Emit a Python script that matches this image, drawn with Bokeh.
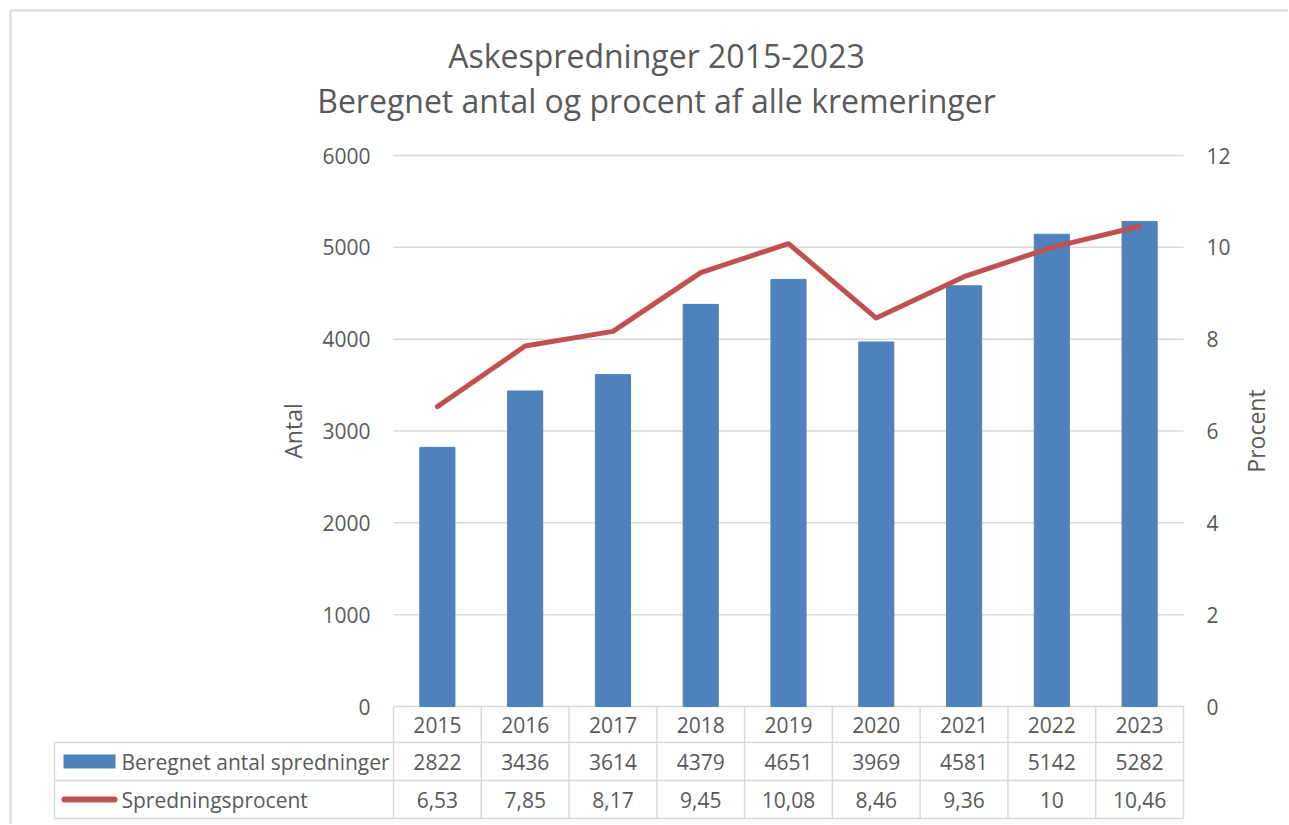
import math
import numpy as np
from bokeh.plotting import figure
from bokeh.models import Range1d
from bokeh.embed import file_html
from bokeh.resources import INLINE
from bokeh.core.properties import value

# ---------------- data ----------------
years = ["2015", "2016", "2017", "2018", "2019", "2020", "2021", "2022", "2023"]
antal = [2822, 3436, 3614, 4379, 4651, 3969, 4581, 5142, 5282]
procent = [6.53, 7.85, 8.17, 9.45, 10.08, 8.46, 9.36, 10.0, 10.46]
procent_labels = ["6,53", "7,85", "8,17", "9,45", "10,08", "8,46", "9,36", "10", "10,46"]
left_ticks = [0, 1000, 2000, 3000, 4000, 5000, 6000]
right_ticks = [0, 2, 4, 6, 8, 10, 12]
series_names = ["Beregnet antal spredninger", "Spredningsprocent"]
title_lines = ["Askespredninger 2015-2023", "Beregnet antal og procent af alle kremeringer"]
axis_titles = ["Antal", "Procent"]

# ---------------- style ----------------
BAR = "#4F81BD"
LINE = "#C0504D"
TXT = "#595959"
GRID = "#D9D9D9"
FONT = "Open Sans"

# ---------------- layout (canvas pixels) ----------------
W, H = 1288, 824
CAT_L, CAT_R = 393, 1183          # plot area / table value columns
Y0, Y_TOP = 706, 155              # value 0 and top value on the axes
ROWS = [706, 742, 780, 818]       # data-table row edges
TABLE_L = 54

n = len(years)
cw = (CAT_R - CAT_L) / n
xs = np.arange(n) + 0.5
bounds = np.arange(n + 1)


def px_to_x(px):
    return (px - CAT_L) / cw


def py_to_left(py):
    return (Y0 - py) / (Y0 - Y_TOP) * left_ticks[-1]


def py_to_right(py):
    return (Y0 - py) / (Y0 - Y_TOP) * right_ticks[-1]


p = figure(
    width=W, height=H,
    x_range=Range1d(px_to_x(0), px_to_x(W)),
    y_range=Range1d(py_to_left(H), py_to_left(0)),
    output_backend="svg", toolbar_location=None,
    x_axis_location=None, y_axis_location=None,
    min_border=0, min_border_left=0, min_border_right=0,
    min_border_top=0, min_border_bottom=0,
)
p.extra_y_ranges = {"pct": Range1d(py_to_right(H), py_to_right(0))}
p.outline_line_color = None
p.grid.visible = False


def txt(x, y, text, align="center", size="21px", angle=0.0, y_range_name="default"):
    p.text(x=x, y=y, text=text, text_align=align, text_baseline="middle",
           text_font=value(FONT), text_font_size=size, text_color=TXT,
           angle=angle, y_range_name=y_range_name)


# chart-area border (top and left edges visible)
p.segment(x0=[px_to_x(10), px_to_x(10)], y0=[py_to_left(10), py_to_left(10)],
          x1=[px_to_x(W), px_to_x(10)], y1=[py_to_left(10), py_to_left(H)],
          line_color="#D9D9D9", line_width=2)

# title
txt([px_to_x(656)] * 2, [py_to_left(55), py_to_left(100)], title_lines, size="32px")

# horizontal gridlines
p.segment(x0=[0] * len(left_ticks), y0=left_ticks, x1=[n] * len(left_ticks),
          y1=left_ticks, line_color=GRID, line_width=1.5)

# tick labels
txt([px_to_x(370)] * len(left_ticks), left_ticks, [str(t) for t in left_ticks], align="right")
txt([px_to_x(1206)] * len(right_ticks), right_ticks, [str(t) for t in right_ticks],
    align="left", y_range_name="pct")

# axis titles
mid = py_to_left((Y0 + Y_TOP) / 2)
txt([px_to_x(292)], [mid], [axis_titles[0]], size="23px", angle=math.pi / 2)
txt([px_to_x(1255)], [mid], [axis_titles[1]], size="23px", angle=math.pi / 2)

# series
p.vbar(x=xs, top=antal, bottom=0, width=0.4, color=BAR)
p.line(x=xs, y=procent, y_range_name="pct", line_color=LINE, line_width=5,
       line_cap="round", line_join="round")

# ---------------- data table ----------------
ry = [py_to_left(r) for r in ROWS]
xl = px_to_x(TABLE_L)
# horizontal rules
p.segment(x0=[xl] * 3, y0=ry[1:], x1=[n] * 3, y1=ry[1:], line_color=GRID, line_width=1.5)
# vertical rules
p.segment(x0=bounds, y0=[ry[0]] * (n + 1), x1=bounds, y1=[ry[3]] * (n + 1),
          line_color=GRID, line_width=1.5)
p.segment(x0=[xl], y0=[ry[1]], x1=[xl], y1=[ry[3]], line_color=GRID, line_width=1.5)

row_c = [(ry[i] + ry[i + 1]) / 2 for i in range(3)]
txt(xs, [row_c[0]] * n, years)
txt(xs, [row_c[1]] * n, [str(v) for v in antal])
txt(xs, [row_c[2]] * n, procent_labels)
txt([px_to_x(121)] * 2, row_c[1:], series_names, align="left")

# legend keys
p.rect(x=[px_to_x(89)], y=[row_c[1]], width=52, height=14, width_units="screen",
       height_units="screen", fill_color=BAR, line_color=None)
p.segment(x0=[px_to_x(64)], y0=[row_c[2]], x1=[px_to_x(114)], y1=[row_c[2]],
          line_color=LINE, line_width=6, line_cap="round")

open("out.html", "w").write(file_html(p, INLINE))
